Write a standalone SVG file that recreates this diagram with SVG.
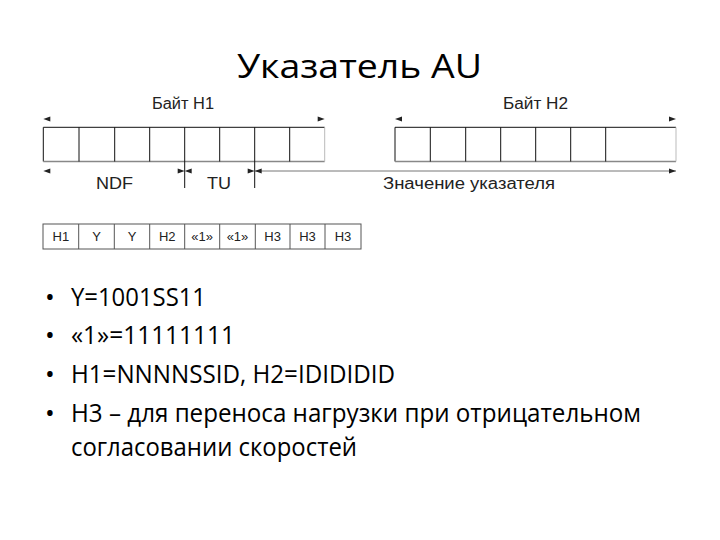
<svg xmlns="http://www.w3.org/2000/svg" width="720" height="540" viewBox="0 0 720 540">
<defs>
<marker id="ah" markerUnits="userSpaceOnUse" markerWidth="8" markerHeight="6" refX="7" refY="2.5" orient="auto-start-reverse" overflow="visible">
<path d="M0,0 L7,2.5 L0,5 z" fill="#222"/>
</marker>
<style>
.title{font-family:"Open Sans","Liberation Sans",sans-serif;font-size:33px;fill:#000}
.bul{font-family:"Open Sans","Liberation Sans",sans-serif;font-size:26px;fill:#000}
.lbl{font-family:"Liberation Sans",Arial,sans-serif;font-size:16px;fill:#222}
.cell{font-family:"Liberation Sans",Arial,sans-serif;font-size:13px;fill:#222;text-anchor:middle}
.ln{stroke:#111;stroke-width:1;fill:none}
.lnb{stroke:#888;stroke-width:1.6;fill:none}
.lnr{stroke:#bbb;stroke-width:1;fill:none}
.tb{stroke:#555;stroke-width:1;fill:none}
.dim{stroke:none;fill:none;marker-start:url(#ah);marker-end:url(#ah)}
.dimv{stroke:#777;stroke-width:1;fill:none;marker-start:url(#ah);marker-end:url(#ah)}
</style>
</defs>
<rect width="720" height="540" fill="#fff"/>

<g id="title">
<text class="title" x="237" y="78" textLength="245" lengthAdjust="spacingAndGlyphs">Указатель AU</text>
</g>

<g id="byte-h1">
<text class="lbl" x="152" y="109" textLength="62" lengthAdjust="spacingAndGlyphs">Байт H1</text>
<path class="ln" d="M43.3,161.5 V127.3 H324.7"/>
<path class="lnb" d="M43.3,161.5 H324.7"/>
<path class="lnr" d="M324.7,127.3 V161.5"/>
<path class="ln" d="M79,127.3 V161.5 M114.7,127.3 V161.5 M149.7,127.3 V161.5 M219.7,127.3 V161.5 M289.7,127.3 V161.5 M184.7,127.3 V188 M254.7,127.3 V188"/>
</g>

<g id="byte-h2">
<text class="lbl" x="503" y="109" textLength="65" lengthAdjust="spacingAndGlyphs">Байт H2</text>
<path class="ln" d="M395,161.5 V127.3 H676"/>
<path class="lnb" d="M395,161.5 H676"/>
<path class="lnr" d="M676,127.3 V161.5"/>
<path class="ln" d="M430.3,127.3 V161.5 M465.7,127.3 V161.5 M500.7,127.3 V161.5 M535.7,127.3 V161.5 M570.7,127.3 V161.5 M605.7,127.3 V161.5"/>
</g>

<g id="field-labels">
<text class="lbl" x="96" y="189" textLength="37" lengthAdjust="spacingAndGlyphs">NDF</text>
<text class="lbl" x="207" y="189" textLength="24" lengthAdjust="spacingAndGlyphs">TU</text>
<text class="lbl" x="383" y="189" textLength="172" lengthAdjust="spacingAndGlyphs">Значение указателя</text>
</g>

<g id="connectors">
<line class="dim" x1="43.3" y1="119" x2="324.7" y2="119"/>
<line class="dim" x1="395" y1="119" x2="676" y2="119"/>
<line class="dim" x1="43.3" y1="171" x2="184.7" y2="171"/>
<line class="dim" x1="184.7" y1="171" x2="254.7" y2="171"/>
<line class="dimv" x1="254.7" y1="171" x2="676" y2="171"/>
</g>

<g id="sequence">
<rect class="tb" x="43" y="224" width="318" height="25"/>
<path class="tb" d="M78.7,224 V249 M114.3,224 V249 M149.7,224 V249 M184.7,224 V249 M219.7,224 V249 M255.3,224 V249 M290,224 V249 M325,224 V249"/>
<text class="cell" x="60.9" y="241">H1</text>
<text class="cell" x="96.5" y="241">Y</text>
<text class="cell" x="132" y="241">Y</text>
<text class="cell" x="167.2" y="241">H2</text>
<text class="cell" x="202.2" y="241">«1»</text>
<text class="cell" x="237.5" y="241">«1»</text>
<text class="cell" x="272.6" y="241">H3</text>
<text class="cell" x="307.5" y="241">H3</text>
<text class="cell" x="343" y="241">H3</text>
</g>

<g id="bullets">
<text class="bul" x="45" y="306">•</text>
<text class="bul" x="71" y="306" textLength="135" lengthAdjust="spacingAndGlyphs">Y=1001SS11</text>
<text class="bul" x="45" y="344">•</text>
<text class="bul" x="71" y="344" textLength="164" lengthAdjust="spacingAndGlyphs">«1»=11111111</text>
<text class="bul" x="45" y="383">•</text>
<text class="bul" x="71" y="383" textLength="324" lengthAdjust="spacingAndGlyphs">H1=NNNNSSID, H2=IDIDIDID</text>
<text class="bul" x="45" y="422">•</text>
<text class="bul" x="71" y="422" textLength="570" lengthAdjust="spacingAndGlyphs">H3 – для переноса нагрузки при отрицательном</text>
<text class="bul" x="71" y="456" textLength="286" lengthAdjust="spacingAndGlyphs">согласовании скоростей</text>
</g>
</svg>
